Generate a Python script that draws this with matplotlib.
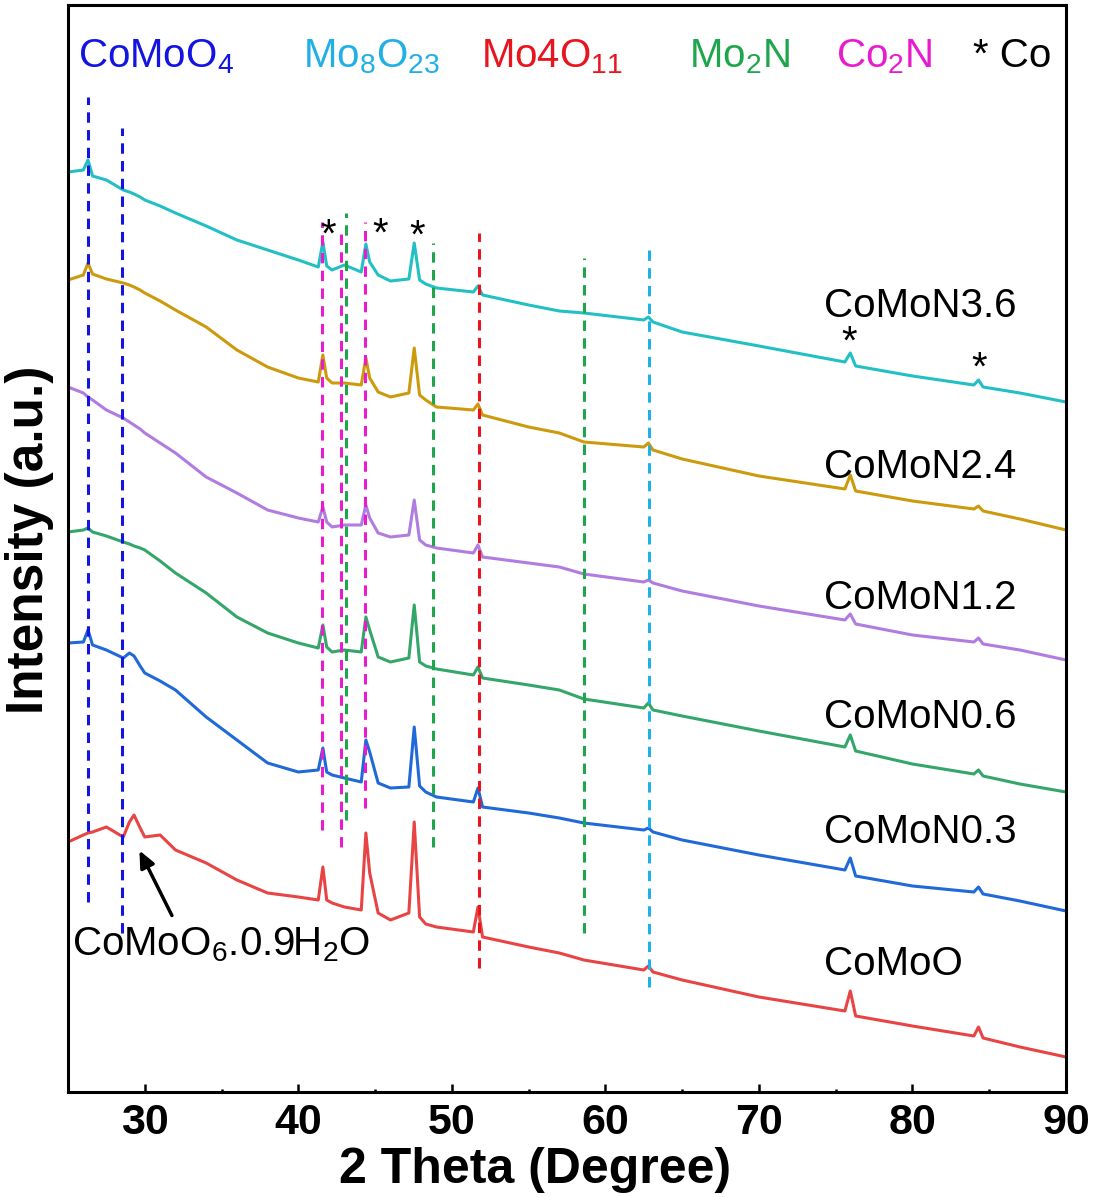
import matplotlib
matplotlib.use('Agg')
import matplotlib.pyplot as plt
from matplotlib.ticker import MultipleLocator

plt.rcParams['font.family'] = ['Liberation Sans', 'DejaVu Sans']
plt.rcParams['mathtext.fontset'] = 'custom'
plt.rcParams['mathtext.rm'] = 'Liberation Sans'

# 2 theta positions (degree) where the patterns were read
two_theta = [25, 26.0, 26.3, 26.6, 27.5, 28.6, 29.0, 29.3, 29.7, 30, 31, 32, 34, 36, 38, 40,
             41.3, 41.6, 41.85, 42.2, 43, 44.1, 44.4, 44.65, 45.2, 46, 47.2, 47.55, 47.9,
             48.3, 49, 51.4, 51.7, 52.0, 55, 57, 58.6, 62.5, 62.8, 63.1, 65, 70, 75.6,
             75.95, 76.3, 80, 84.0, 84.3, 84.6, 87, 90]

# stacked intensities (a.u.)
comon36 = [920, 922, 932, 916, 912, 902, 900, 898, 895, 892, 886, 879, 866, 852, 842, 832,
           825, 850, 826, 822, 827, 820, 848, 830, 817, 811, 813, 849, 812,
           808, 804, 800, 806, 797, 787, 781, 779, 772, 775, 770, 760, 746, 730,
           739, 726, 716, 707, 712, 705, 699, 690]
comon24 = [812, 817, 829, 818, 813, 809, 807, 805, 802, 799, 791, 782, 765, 742, 725, 714,
           710, 737, 714, 709, 709, 707, 734, 714, 700, 695, 699, 744, 697,
           692, 685, 682, 688, 677, 665, 659, 650, 645, 649, 642, 633, 616, 603,
           617, 601, 591, 583, 586, 581, 573, 562]
comon12 = [705, 699, 695, 692, 682, 674, 670, 667, 663, 659, 649, 639, 615, 599, 582, 574,
           570, 585, 570, 565, 567, 567, 587, 574, 559, 555, 557, 592, 552,
           547, 544, 539, 547, 535, 529, 525, 518, 510, 512, 509, 501, 486, 472,
           478, 468, 457, 450, 454, 448, 442, 432]
comon06 = [560, 562, 564, 560, 556, 550, 548, 546, 544, 542, 531, 519, 499, 475, 459, 449,
           444, 467, 445, 440, 442, 440, 475, 462, 435, 430, 434, 487, 430,
           426, 423, 417, 425, 414, 407, 402, 393, 384, 389, 382, 376, 361, 345,
           357, 341, 328, 318, 322, 316, 308, 300]
comon03 = [449, 450, 462, 447, 442, 434, 439, 436, 426, 419, 411, 402, 375, 352, 329, 320,
           322, 344, 320, 317, 314, 310, 352, 340, 309, 304, 305, 365, 306,
           300, 295, 290, 304, 285, 279, 274, 269, 262, 264, 260, 252, 237, 222,
           234, 216, 206, 200, 205, 198, 191, 181]
comoo = [250, 257, 259, 260, 265, 255, 270, 277, 264, 255, 257, 242, 229, 212, 199, 195,
         192, 225, 192, 189, 185, 182, 259, 219, 179, 172, 179, 270, 175,
         168, 165, 160, 185, 155, 145, 139, 132, 122, 126, 120, 112, 95, 81,
         101, 76, 66, 56, 65, 54, 45, 35]

samples = ['CoMoN3.6', 'CoMoN2.4', 'CoMoN1.2', 'CoMoN0.6', 'CoMoN0.3', 'CoMoO']
series = [comon36, comon24, comon12, comon06, comon03, comoo]
colors = ['#22c0c4', '#cc9a0c', '#b07ce0', '#34a66a', '#1f6ad8', '#e84444']
label_y = [775, 614, 483, 364, 249, 117]

# reference lines: position, y range, colour
ref_pos = [26.32, 28.5, 41.55, 42.79, 44.37, 43.13, 48.77, 58.6, 51.77, 62.82]
ref_top = [995, 964, 870, 865, 870, 879, 849, 834, 859, 843]
ref_bottom = [190, 159, 262, 245, 284, 272, 245, 159, 124, 105]
ref_colors = ['#1414e0', '#1414e0', '#e81ccf', '#e81ccf', '#e81ccf',
              '#1fa64c', '#1fa64c', '#1fa64c', '#e8141e', '#20b0e6']

phases = ['CoMoO$_\\mathregular{4}$', 'Mo$_\\mathregular{8}$O$_\\mathregular{23}$',
          'Mo4O$_\\mathregular{11}$', 'Mo$_\\mathregular{2}$N', 'Co$_\\mathregular{2}$N', '* Co']
phase_x = [25.65, 40.33, 51.87, 65.44, 75.03, 83.97]
phase_colors = ['#1414e0', '#20b0e6', '#e8141e', '#1fa64c', '#e81ccf', 'black']

star_x = [41.96, 45.35, 47.77, 75.88, 84.36]
star_y = [845, 846, 844, 738, 712]

fig = plt.figure(figsize=(10.96, 11.97), dpi=100)
ax = fig.add_axes([68 / 1096, 105 / 1197, 998 / 1096, 1087 / 1197])

for y, c in zip(series, colors):
    ax.plot(two_theta, y, color=c, lw=2.2, zorder=2)

for name, ly in zip(samples, label_y):
    ax.text(74.25, ly, name, fontsize=29, va='baseline', ha='left')

for x, top, bot, c in zip(ref_pos, ref_top, ref_bottom, ref_colors):
    ax.plot([x, x], [bot, top], color=c, lw=2.2, ls=(0, (3.4, 2.4)), zorder=3)

for name, x, c in zip(phases, phase_x, phase_colors):
    ax.text(x, 1025, name, fontsize=29, color=c, va='baseline', ha='left')

for x, y in zip(star_x, star_y):
    ax.text(x, y, '*', fontsize=29, va='baseline', ha='center')

ax.text(25.26, 137, 'CoMoO$_\\mathregular{6}$.0.9H$_\\mathregular{2}$O', fontsize=29,
        va='baseline', ha='left')
ax.annotate('', xy=(29.57, 244), xytext=(31.85, 174),
            arrowprops=dict(arrowstyle='-|>,head_length=1.0,head_width=0.45',
                            color='black', lw=2.5))

ax.set_xlim(25, 90)
ax.set_ylim(0, 1087)
ax.set_yticks([])
ax.xaxis.set_major_locator(MultipleLocator(10))
ax.xaxis.set_minor_locator(MultipleLocator(5))
ax.tick_params(axis='x', which='major', direction='in', length=6, width=1.8,
               labelsize=31, pad=8)
ax.tick_params(axis='x', which='minor', direction='in', length=2.5, width=1.8)
ax.tick_params(top=False, right=False)
for lab in ax.get_xticklabels():
    lab.set_fontweight('bold')
for s in ax.spines.values():
    s.set_linewidth(2.2)

fig.text(535 / 1096, 14 / 1197, '2 Theta (Degree)', fontsize=36, fontweight='bold',
         ha='center', va='baseline')
fig.text(30 / 1096, 1 - 540 / 1197, 'Intensity (a.u.)', fontsize=37, fontweight='bold',
         rotation=90, ha='center', va='center')

fig.savefig('out.png', dpi=100)
